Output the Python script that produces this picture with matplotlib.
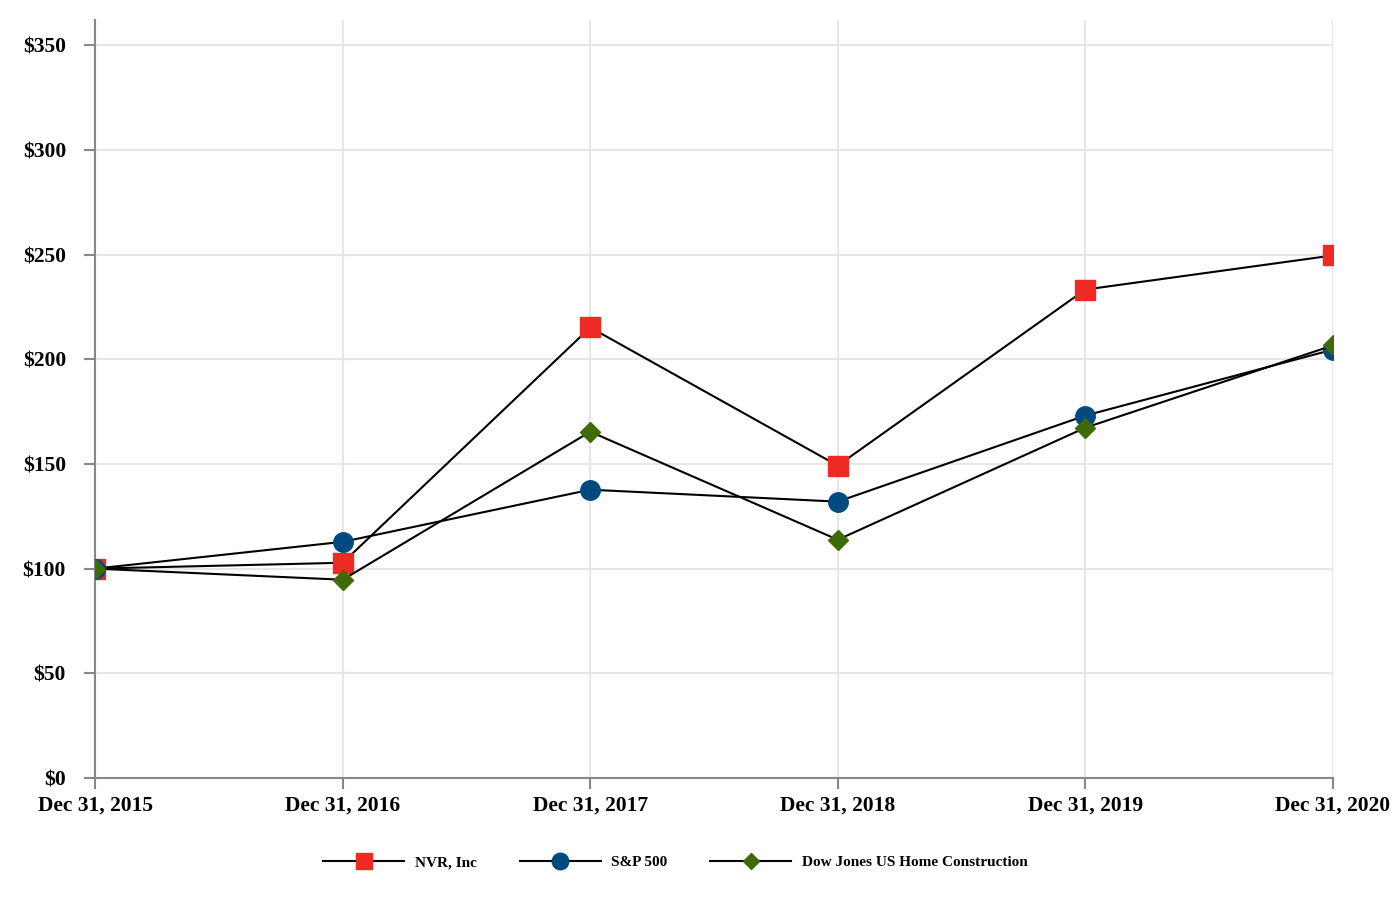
import matplotlib.pyplot as plt

dates = ['Dec 31, 2015', 'Dec 31, 2016', 'Dec 31, 2017',
         'Dec 31, 2018', 'Dec 31, 2019', 'Dec 31, 2020']
nvr = [100, 102.8, 215.2, 149.2, 233.3, 249.6]
sp500 = [100, 112.8, 137.7, 132.0, 173.1, 204.6]
dow_home = [100, 94.7, 165.4, 113.8, 167.3, 206.6]
y_ticks = [0, 50, 100, 150, 200, 250, 300, 350]

plt.rcParams['font.family'] = ['Liberation Serif', 'DejaVu Serif']
plt.rcParams['font.weight'] = 'bold'

fig = plt.figure(figsize=(14, 9), dpi=100)
ax = fig.add_axes([0.068, 0.1356, 0.884, 0.842])

x = list(range(len(dates)))
ax.plot(x, nvr, color='black', lw=1.5, marker='s', ms=14,
        mfc='#EE2A24', mec='#EE2A24', label='NVR, Inc', zorder=3)
ax.plot(x, sp500, color='black', lw=1.5, marker='o', ms=14,
        mfc='#004A80', mec='#004A80', label='S&P 500', zorder=4)
ax.plot(x, dow_home, color='black', lw=1.5, marker='D', ms=10,
        mfc='#3F6A0A', mec='#3F6A0A', label='Dow Jones US Home Construction', zorder=5)

ax.set_xlim(0, len(dates) - 1)
ax.set_ylim(0, 362)
ax.set_xticks(x)
ax.set_xticklabels(dates)
ax.set_yticks(y_ticks)
ax.set_yticklabels(['$%d' % v for v in y_ticks])
ax.tick_params(axis='both', labelsize=15.5, color='#888888', length=8, width=1.5, direction='out')
ax.tick_params(axis='y', pad=13)
ax.tick_params(axis='x', pad=5)

ax.grid(True, color='#e6e6e6', lw=1.5)
ax.set_axisbelow(True)
for s in ['top', 'right']:
    ax.spines[s].set_visible(False)
for s in ['left', 'bottom']:
    ax.spines[s].set_color('#888888')
    ax.spines[s].set_linewidth(1.5)
ax.spines['bottom'].set_zorder(6)

leg = fig.legend(loc='center', bbox_to_anchor=(0.4825, 0.042), ncol=3, frameon=False,
                 fontsize=11, handlelength=5.3, handletextpad=0.7, columnspacing=2.8,
                 markerscale=0.85)

fig.savefig('out.png', dpi=100)
